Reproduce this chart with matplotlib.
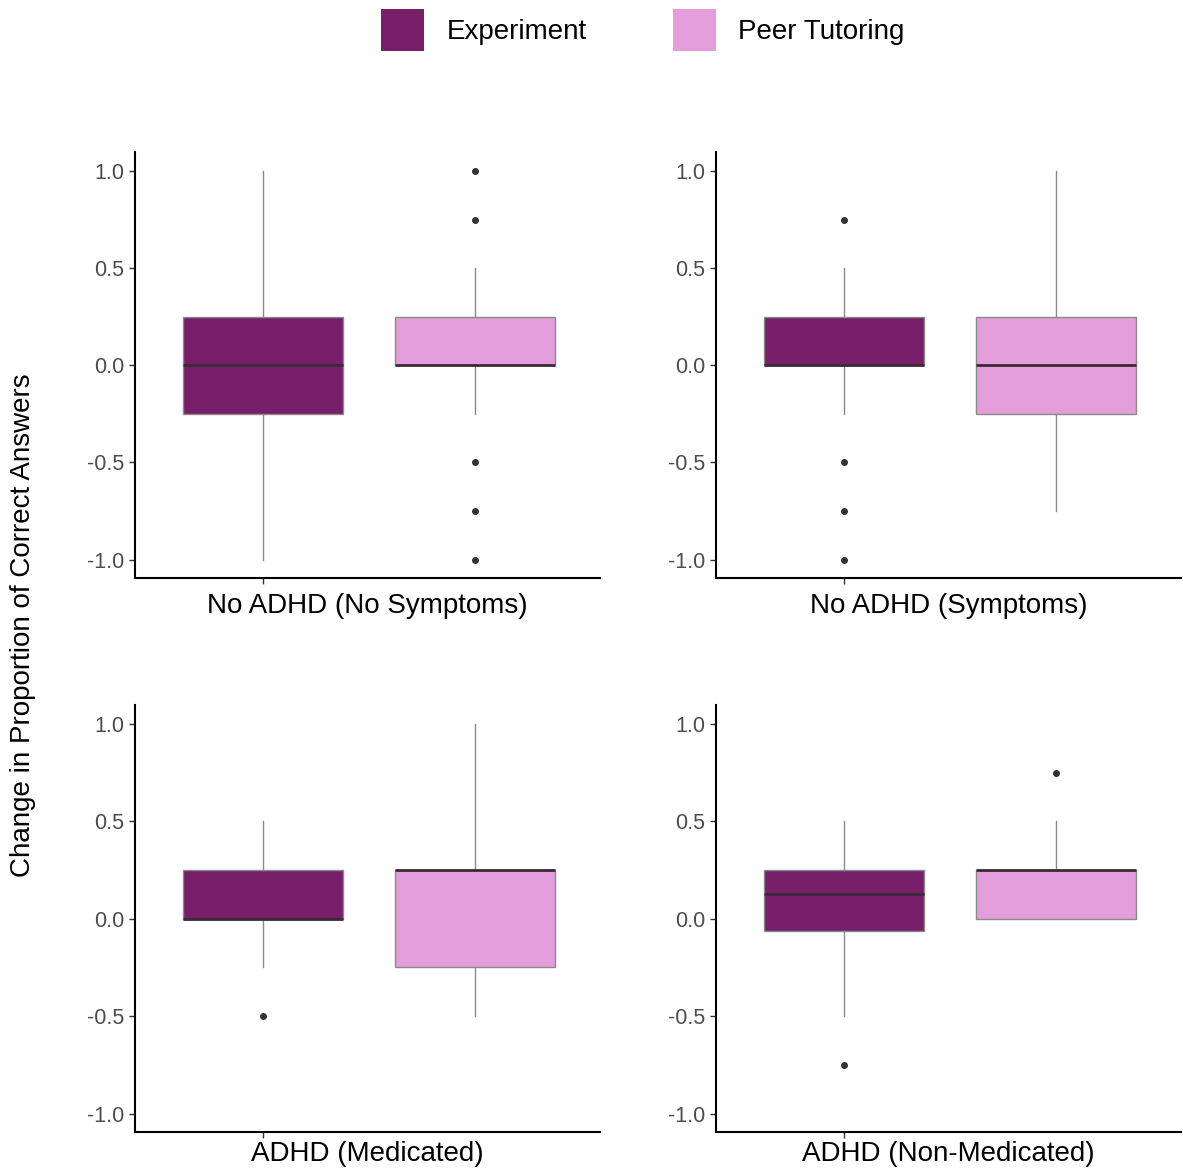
import matplotlib
matplotlib.use("Agg")
from matplotlib import pyplot as plt
from matplotlib.patches import Patch

plt.rcParams["font.family"] = ["Liberation Sans", "DejaVu Sans"]

panels = ["No ADHD (No Symptoms)", "No ADHD (Symptoms)",
          "ADHD (Medicated)", "ADHD (Non-Medicated)"]
groups = ["Experiment", "Peer Tutoring"]
colors = ["#771F69", "#E39DDA"]

# box stats per panel: [experiment, peer tutoring] -> (whislo, q1, med, q3, whishi)
exp_stats = [(-1.0, -0.25, 0.0, 0.25, 1.0),
             (-0.25, 0.0, 0.0, 0.25, 0.5),
             (-0.25, 0.0, 0.0, 0.25, 0.5),
             (-0.5, -0.0625, 0.125, 0.25, 0.5)]
peer_stats = [(-0.25, 0.0, 0.0, 0.25, 0.5),
              (-0.75, -0.25, 0.0, 0.25, 1.0),
              (-0.5, -0.25, 0.25, 0.25, 1.0),
              (0.0, 0.0, 0.25, 0.25, 0.5)]
exp_fliers = [[], [0.75, -0.5, -0.75, -1.0], [-0.5], [-0.75]]
peer_fliers = [[1.0, 0.75, -0.5, -0.75, -1.0], [], [], [0.75]]

yticks = [-1.0, -0.5, 0.0, 0.5, 1.0]

fig = plt.figure(figsize=(11.83, 11.70), dpi=100)
W, H = 1183, 1170
boxes = [(135, 152, 465, 426), (716, 152, 465, 426),
         (135, 705, 465, 427), (716, 705, 465, 427)]
label_off = [28, 28, 22, 22]


def mk(s, fl):
    return dict(whislo=s[0], q1=s[1], med=s[2], q3=s[3], whishi=s[4], fliers=fl)


for i, name in enumerate(panels):
    x0, y0, w, h = boxes[i]
    ax = fig.add_axes([x0 / W, 1 - (y0 + h) / H, w / W, h / H])
    st = [mk(exp_stats[i], exp_fliers[i]), mk(peer_stats[i], peer_fliers[i])]
    bp = ax.bxp(st, positions=[0, 1], widths=0.755, patch_artist=True,
                showcaps=False,
                boxprops=dict(edgecolor="#8a8a8a", linewidth=1.0),
                whiskerprops=dict(color="#8a8a8a", linewidth=1.0),
                medianprops=dict(color="#3a2a38", linewidth=2.0),
                flierprops=dict(marker="o", markersize=4.0, markerfacecolor="#333333",
                                markeredgecolor="#333333", linestyle="none"))
    for patch, c in zip(bp["boxes"], colors):
        patch.set_facecolor(c)
    ax.set_xlim(-0.604, 1.59)
    ax.set_ylim(-1.095, 1.098)
    ax.set_yticks(yticks)
    ax.set_yticklabels([f"{t:.1f}" for t in yticks])
    ax.set_xticks([0])
    ax.set_xticklabels([""])
    for s in ["top", "right"]:
        ax.spines[s].set_visible(False)
    for s in ["left", "bottom"]:
        ax.spines[s].set_linewidth(1.5)
        ax.spines[s].set_color("black")
    ax.tick_params(axis="both", length=4.5, width=1.0, color="#333333",
                   labelsize=15.5, labelcolor="#4D4D4D", pad=3)
    ax.text(0.5, -label_off[i] / h, name, transform=ax.transAxes,
            ha="center", va="center", fontsize=20, color="black")

fig.text(23 / W, 1 - 625 / H, "Change in Proportion of Correct Answers",
         rotation=90, ha="center", va="center", fontsize=20)

handles = [Patch(facecolor=c, edgecolor="none") for c in colors]
fig.legend(handles, groups, loc="center", bbox_to_anchor=(643 / W, 1 - 30 / H),
           ncol=2, frameon=False, fontsize=20, handlelength=1.55, handleheight=2.0,
           handletextpad=0.8, columnspacing=3.1, borderpad=0)

fig.savefig("out.png", dpi=100)
